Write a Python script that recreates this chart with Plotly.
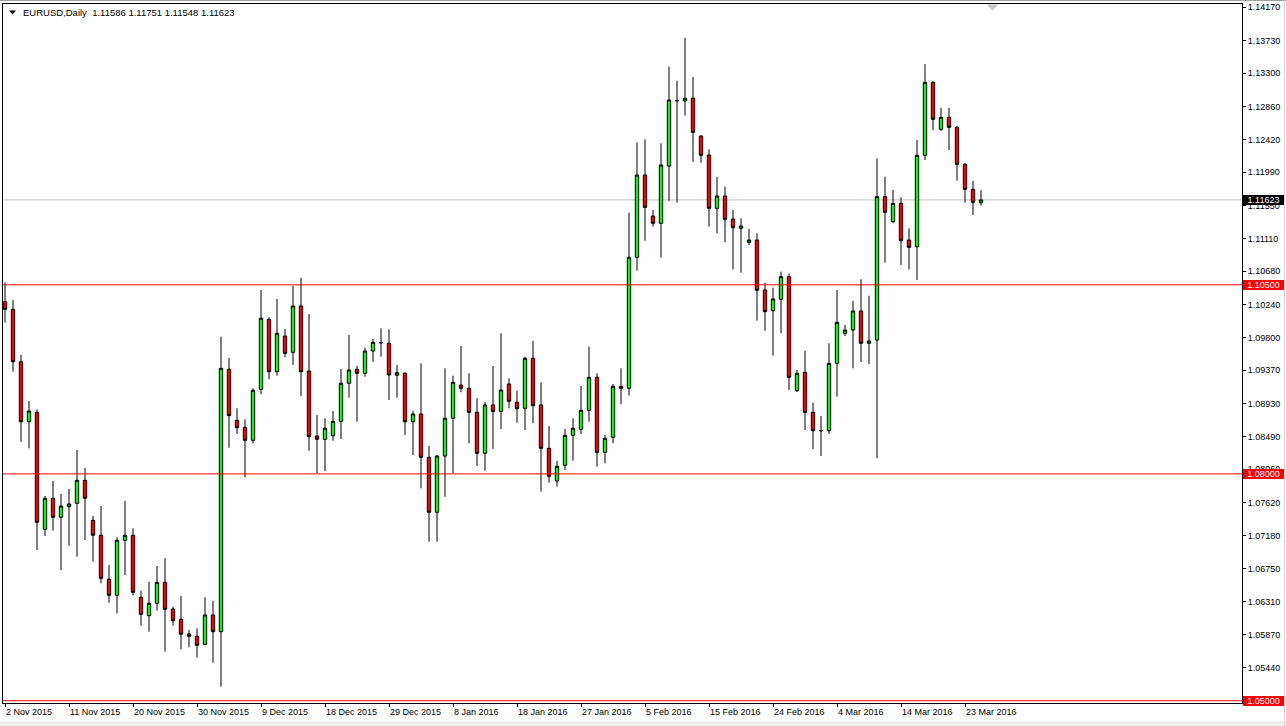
import pandas as pd
import plotly.graph_objects as go

# ---------------- data (EURUSD daily) ----------------
opens = [1.10277, 1.10176, 1.09483, 1.08690, 1.08814, 1.07267, 1.07677, 1.07426, 1.07566, 1.07611,
         1.07915, 1.07386, 1.07188, 1.06606, 1.06394, 1.07122, 1.07188, 1.06368, 1.06125, 1.06289,
         1.06566, 1.06213, 1.06077, 1.05883, 1.05852, 1.05746, 1.06134, 1.05913, 1.09383, 1.08708,
         1.08616, 1.08444, 1.09118, 1.10044, 1.09351, 1.09823, 1.09608, 1.10220, 1.09360, 1.08501,
         1.08457, 1.08505, 1.08695, 1.09198, 1.09383, 1.09330, 1.09625, 1.09735, 1.09727, 1.09304,
         1.09330, 1.08690, 1.08792, 1.08219, 1.07492, 1.08236, 1.08735, 1.09175, 1.09132, 1.08814,
         1.08272, 1.08911, 1.08827, 1.09189, 1.08947, 1.08867, 1.09528, 1.08911, 1.08338, 1.07906,
         1.08113, 1.08510, 1.08589, 1.08841, 1.09277, 1.08285, 1.08484, 1.09158, 1.09132, 1.10864,
         1.11952, 1.11410, 1.11314, 1.12071, 1.12935, 1.12931, 1.12967, 1.12468, 1.12217, 1.11512,
         1.11675, 1.11370, 1.11248, 1.11062, 1.11093, 1.10432, 1.10158, 1.10309, 1.10608, 1.09100,
         1.09343, 1.08814, 1.08571, 1.08571, 1.09462, 1.09859, 1.09903, 1.10154, 1.09727, 1.09770,
         1.11666, 1.11335, 1.11578, 1.11093, 1.11004, 1.12213, 1.13178, 1.12557, 1.12716, 1.12583,
         1.12094, 1.11763, 1.11586]
highs = [1.10528, 1.10299, 1.09572, 1.08964, 1.08854, 1.07708, 1.07906, 1.07734, 1.07800, 1.08316,
         1.08078, 1.07443, 1.07575, 1.06795, 1.07161, 1.07641, 1.07280, 1.06455, 1.06574, 1.06782,
         1.06884, 1.06244, 1.06385, 1.05935, 1.05958, 1.06368, 1.06323, 1.09814, 1.09532, 1.08867,
         1.08722, 1.09132, 1.10432, 1.10071, 1.10313, 1.09916, 1.10485, 1.10594, 1.10114, 1.08779,
         1.08735, 1.08831, 1.09387, 1.09837, 1.09431, 1.09669, 1.09784, 1.09925, 1.09912, 1.09440,
         1.09343, 1.08835, 1.09462, 1.08369, 1.08250, 1.09396, 1.09298, 1.09691, 1.09330, 1.09000,
         1.08954, 1.09427, 1.09859, 1.09264, 1.09100, 1.09550, 1.09757, 1.09211, 1.08633, 1.08170,
         1.08593, 1.08735, 1.09162, 1.09682, 1.09330, 1.08514, 1.09189, 1.09396, 1.11454, 1.12385,
         1.12424, 1.11490, 1.12372, 1.13385, 1.13199, 1.13768, 1.13248, 1.12480, 1.12292, 1.11930,
         1.11798, 1.11490, 1.11380, 1.11238, 1.11181, 1.10528, 1.10462, 1.10674, 1.10652, 1.09374,
         1.09629, 1.08941, 1.08765, 1.09727, 1.10432, 1.09969, 1.10286, 1.10573, 1.10356, 1.12173,
         1.11930, 1.11754, 1.11658, 1.11248, 1.12415, 1.13420, 1.13195, 1.12842, 1.12842, 1.12600,
         1.12107, 1.11873, 1.11751]
lows = [1.09999, 1.09351, 1.08425, 1.08338, 1.06993, 1.07179, 1.07249, 1.06729, 1.07050, 1.06905,
        1.07126, 1.06839, 1.06553, 1.06296, 1.06156, 1.06663, 1.06394, 1.05992, 1.05913, 1.06191,
        1.05648, 1.05992, 1.05680, 1.05707, 1.05569, 1.05740, 1.05503, 1.05186, 1.08346, 1.08527,
        1.07955, 1.08404, 1.09052, 1.09251, 1.09298, 1.09542, 1.09440, 1.09030, 1.08306, 1.08008,
        1.08038, 1.08439, 1.08461, 1.09008, 1.08690, 1.09285, 1.09483, 1.09550, 1.08977, 1.09008,
        1.08514, 1.08250, 1.07809, 1.07103, 1.07103, 1.07698, 1.08008, 1.09079, 1.08404, 1.08104,
        1.08042, 1.08329, 1.08593, 1.08867, 1.08677, 1.08580, 1.08669, 1.07764, 1.07883, 1.07831,
        1.08051, 1.08174, 1.08527, 1.08690, 1.08095, 1.08140, 1.08404, 1.08920, 1.09034, 1.10687,
        1.11083, 1.11269, 1.10859, 1.11612, 1.11586, 1.12737, 1.12128, 1.12115, 1.11269, 1.11181,
        1.11062, 1.10705, 1.10660, 1.11027, 1.10026, 1.09893, 1.09563, 1.09859, 1.09109, 1.09083,
        1.08580, 1.08329, 1.08236, 1.08527, 1.09021, 1.09823, 1.09396, 1.09479, 1.09453, 1.08206,
        1.10793, 1.11314, 1.10762, 1.10705, 1.10564, 1.12151, 1.12547, 1.12534, 1.12283, 1.11877,
        1.11586, 1.11424, 1.11548]
closes = [1.10176, 1.09483, 1.08690, 1.08831, 1.07360, 1.07677, 1.07426, 1.07575, 1.07602, 1.07915,
          1.07677, 1.07188, 1.06619, 1.06394, 1.07122, 1.07188, 1.06434, 1.06143, 1.06289, 1.06566,
          1.06209, 1.06058, 1.05879, 1.05852, 1.05733, 1.06134, 1.05913, 1.09396, 1.08770, 1.08611,
          1.08444, 1.09105, 1.10058, 1.09351, 1.09859, 1.09594, 1.10220, 1.09351, 1.08492, 1.08457,
          1.08603, 1.08695, 1.09198, 1.09374, 1.09330, 1.09625, 1.09740, 1.09735, 1.09308, 1.09338,
          1.08690, 1.08792, 1.08219, 1.07492, 1.08236, 1.08735, 1.09211, 1.09132, 1.08814, 1.08272,
          1.08911, 1.08827, 1.09109, 1.08960, 1.08862, 1.09528, 1.08902, 1.08338, 1.07968, 1.08100,
          1.08510, 1.08603, 1.08841, 1.09277, 1.08285, 1.08471, 1.09158, 1.09132, 1.10864, 1.11952,
          1.11525, 1.11314, 1.12085, 1.12944, 1.12935, 1.12967, 1.12517, 1.12213, 1.11512, 1.11675,
          1.11366, 1.11256, 1.11278, 1.11093, 1.10428, 1.10145, 1.10313, 1.10608, 1.09277, 1.09330,
          1.08814, 1.08571, 1.08571, 1.09462, 1.10004, 1.09903, 1.10154, 1.09727, 1.09757, 1.11666,
          1.11459, 1.11578, 1.11083, 1.10996, 1.12213, 1.13178, 1.12689, 1.12716, 1.12583, 1.12094,
          1.11763, 1.11591, 1.11623]

# trading-day categories (MT4 daily bars incl. Sunday bars, market closed 25 Dec / 1 Jan)
closed_days = ["2015-12-25", "2016-01-01"]
bar_dates = [d.strftime("%Y-%m-%d") for d in pd.date_range("2015-11-02", "2016-03-25", freq="D")
             if d.weekday() != 5 and d.strftime("%Y-%m-%d") not in closed_days]

tick_dates = ["2015-11-02", "2015-11-11", "2015-11-20", "2015-11-30", "2015-12-09", "2015-12-18",
              "2015-12-29", "2016-01-08", "2016-01-18", "2016-01-27", "2016-02-05", "2016-02-15",
              "2016-02-24", "2016-03-04", "2016-03-14", "2016-03-23"]
tick_text = [f"{pd.Timestamp(d).day} {pd.Timestamp(d).strftime('%b %Y')}" for d in tick_dates]

price_ticks = [1.14170, 1.13730, 1.13300, 1.12860, 1.12420, 1.11990, 1.11550, 1.11110, 1.10680,
               1.10240, 1.09800, 1.09370, 1.08930, 1.08490, 1.08060, 1.07620, 1.07180, 1.06750,
               1.06310, 1.05870, 1.05440, 1.05000]
level_lines = [1.10500, 1.08000, 1.05000]
bid_price = 1.11623
symbol = "EURUSD,Daily"

# ---------------- layout geometry ----------------
W, H = 1286, 726
PL, PR, PT, PB = 3, 1242, 4, 703
Y_MIN, Y_MAX = 1.04970, 1.14214
X_MIN, X_MAX = -0.25, 154.625
FONT = "Liberation Sans, Arial, sans-serif"


def xp(px):
    return (px - PL) / (PR - PL)


def yp(py):
    return (PB - py) / (PB - PT)


fig = go.Figure()
fig.add_trace(go.Candlestick(
    x=bar_dates, open=opens, high=highs, low=lows, close=closes,
    increasing=dict(fillcolor="#00FF00", line=dict(color="#000000", width=1)),
    decreasing=dict(fillcolor="#FF0000", line=dict(color="#000000", width=1)),
    whiskerwidth=0, showlegend=False, hoverinfo="x+y",
))

shapes = []
# bid line
shapes.append(dict(type="line", xref="paper", yref="y", x0=0, x1=1, y0=bid_price, y1=bid_price,
                   line=dict(color="#C0C0C0", width=1), layer="below"))
for lv in level_lines:
    shapes.append(dict(type="line", xref="paper", yref="y", x0=0, x1=1, y0=lv, y1=lv,
                       line=dict(color="#FF0000", width=1), layer="above"))
# window decorations
shapes.append(dict(type="line", xref="paper", yref="paper", x0=xp(0), x1=xp(W), y0=yp(0.5), y1=yp(0.5),
                   line=dict(color="#A0A0A0", width=1)))
shapes.append(dict(type="rect", xref="paper", yref="paper", x0=xp(0), x1=xp(W), y0=yp(721), y1=yp(H),
                   fillcolor="#F0F0F0", line=dict(width=0)))
shapes.append(dict(type="line", xref="paper", yref="paper", x0=xp(1284.5), x1=xp(1284.5), y0=yp(0), y1=yp(H),
                   line=dict(color="#D0D0D0", width=1)))
shapes.append(dict(type="path", xref="paper", yref="paper",
                   path=f"M {xp(986.5)} {yp(4.5)} L {xp(998.5)} {yp(4.5)} L {xp(992.5)} {yp(10.5)} Z",
                   fillcolor="#C8C8C8", line=dict(width=0)))
shapes.append(dict(type="path", xref="paper", yref="paper",
                   path=f"M {xp(9)} {yp(10.5)} L {xp(16)} {yp(10.5)} L {xp(12.5)} {yp(14.5)} Z",
                   fillcolor="#000000", line=dict(width=0)))

annotations = []
header = f"{symbol}\u00a0 {opens[-1]:.5f} {highs[-1]:.5f} {lows[-1]:.5f} {closes[-1]:.5f}"
annotations.append(dict(xref="paper", yref="paper", x=xp(20.5), y=yp(12.5), xanchor="left", yanchor="middle",
                        text=header, showarrow=False, font=dict(family=FONT, size=9.5, color="#000000")))
annotations.append(dict(xref="paper", yref="y", x=1, y=bid_price, xanchor="left", yanchor="middle", xshift=1,
                        text=f"{bid_price:.5f}", showarrow=False, bgcolor="#000000", width=41, height=10,
                        borderpad=0, borderwidth=0, font=dict(family=FONT, size=9, color="#FFFFFF")))
for lv in level_lines:
    annotations.append(dict(xref="paper", yref="y", x=1, y=lv, xanchor="left", yanchor="middle", xshift=1,
                            text=f"{lv:.5f}", showarrow=False, bgcolor="#FF0000", width=41, height=10,
                            borderpad=0, borderwidth=0, font=dict(family=FONT, size=9, color="#FFFFFF")))

fig.update_layout(
    width=W, height=H,
    margin=dict(l=PL, r=W - PR, t=PT, b=H - PB, pad=0),
    paper_bgcolor="#FFFFFF", plot_bgcolor="#FFFFFF",
    boxgap=0.4,
    showlegend=False,
    shapes=shapes, annotations=annotations,
    font=dict(family=FONT, size=9, color="#000000"),
    xaxis=dict(type="category", range=[X_MIN, X_MAX], showgrid=False, zeroline=False,
               rangeslider=dict(visible=False),
               tickmode="array", tickvals=tick_dates, ticktext=tick_text,
               ticks="outside", ticklen=3, tickcolor="#000000", tickwidth=1,
               ticklabelposition="outside right",
               tickfont=dict(family=FONT, size=9, color="#000000"),
               showline=True, linecolor="#000000", linewidth=1, mirror=True),
    yaxis=dict(side="right", range=[Y_MIN, Y_MAX], showgrid=False, zeroline=False,
               tickmode="array", tickvals=price_ticks, ticktext=[f"{v:.5f}" for v in price_ticks],
               ticks="outside", ticklen=3, tickcolor="#000000", tickwidth=1,
               tickfont=dict(family=FONT, size=9, color="#000000"),
               showline=True, linecolor="#000000", linewidth=1, mirror=True),
)

fig.write_html("out.html", config={"displayModeBar": False},
               post_script="document.body.style.margin='0';document.body.style.overflow='hidden';")
